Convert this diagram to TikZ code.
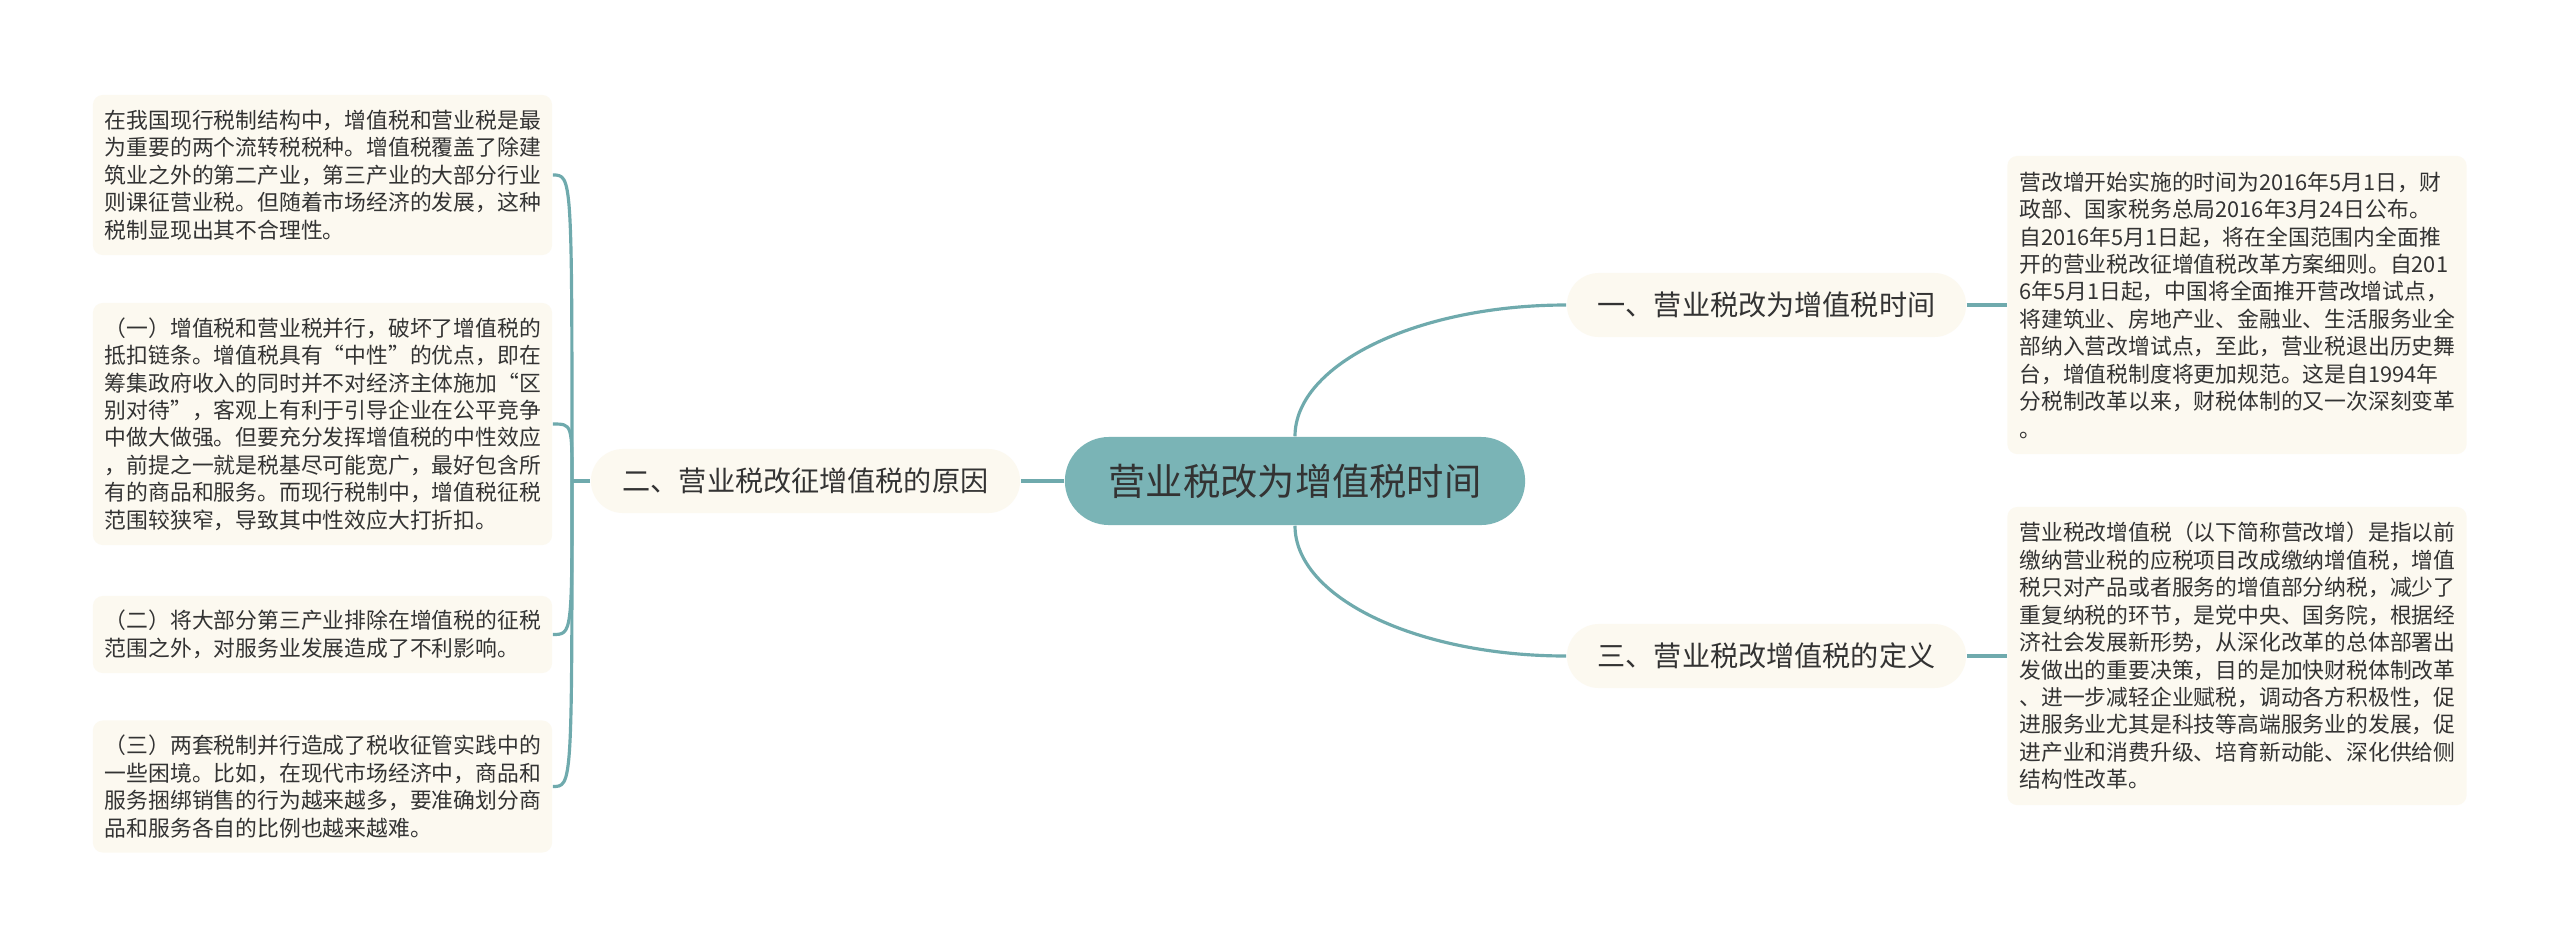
\documentclass[tikz,border=0pt]{standalone}
\usepackage{fontspec}
\newfontfamily\cjk{Noto Sans CJK SC}
\definecolor{rootfill}{RGB}{122,180,182}
\definecolor{linkcol}{RGB}{111,170,173}
\definecolor{leaffill}{RGB}{252,249,240}
\definecolor{txtcol}{RGB}{51,51,51}
\tikzset{
  link/.style={draw=linkcol, line width=0.9pt},
  rootbox/.style={fill=rootfill, rounded corners=4.4mm, minimum width=4.6cm,
    minimum height=0.88cm, inner sep=0pt, text=txtcol,
    font=\cjk\fontsize{10.6pt}{12pt}\selectfont},
  branchbox/.style={fill=leaffill, rounded corners=3.2mm, minimum height=0.64cm,
    inner sep=0pt, text=txtcol, font=\cjk\fontsize{8pt}{10pt}\selectfont},
  leafbox/.style={fill=leaffill, rounded corners=1mm, text width=4.35cm,
    inner xsep=1.2mm, inner ysep=0pt, align=left, text=txtcol,
    font=\cjk\fontsize{6.2pt}{7.8pt}\selectfont},
}
\begin{document}
\begin{tikzpicture}[x=0.01cm, y=-0.01cm]
      \fill[white] (0,0) rectangle (2560,948);   % page
      \useasboundingbox (0,0) rectangle (2560,948);
      %
      \node[rootbox] (root) at (1295,481) {营业税改为增值税时间};   % centre
      %
      \node[branchbox, minimum width=3.99cm] (b1) at (1766.5,305) {一、营业税改为增值税时间};  % right
      \node[branchbox, minimum width=3.99cm] (b3) at (1766.5,656) {三、营业税改增值税的定义};
      \node[branchbox, minimum width=4.29cm] (b2) at (805.5,481) {二、营业税改征增值税的原因}; % left
      %
      \node[leafbox, minimum height=2.98cm] (timeleaf) at (2237,305) {%
        营改增开始实施的时间为2016年5月1日，财\\
        政部、国家税务总局2016年3月24日公布。\\
        自2016年5月1日起，将在全国范围内全面推\\
        开的营业税改征增值税改革方案细则。自201\\
        6年5月1日起，中国将全面推开营改增试点，\\
        将建筑业、房地产业、金融业、生活服务业全\\
        部纳入营改增试点，至此，营业税退出历史舞\\
        台，增值税制度将更加规范。这是自1994年\\
        分税制改革以来，财税体制的又一次深刻变革\\
        。};
      \node[leafbox, minimum height=2.98cm] (defleaf) at (2237,656) {%
        营业税改增值税（以下简称营改增）是指以前\\
        缴纳营业税的应税项目改成缴纳增值税，增值\\
        税只对产品或者服务的增值部分纳税，减少了\\
        重复纳税的环节，是党中央、国务院，根据经\\
        济社会发展新形势，从深化改革的总体部署出\\
        发做出的重要决策，目的是加快财税体制改革\\
        、进一步减轻企业赋税，调动各方积极性，促\\
        进服务业尤其是科技等高端服务业的发展，促\\
        进产业和消费升级、培育新动能、深化供给侧\\
        结构性改革。};
      %
      \node[leafbox, minimum height=1.6cm] (why1) at (322.5,175) {%
        在我国现行税制结构中，增值税和营业税是最\\
        为重要的两个流转税税种。增值税覆盖了除建\\
        筑业之外的第二产业，第三产业的大部分行业\\
        则课征营业税。但随着市场经济的发展，这种\\
        税制显现出其不合理性。};
      \node[leafbox, minimum height=2.42cm] (why2) at (322.5,424) {%
        （一）增值税和营业税并行，破坏了增值税的\\
        抵扣链条。增值税具有“中性”的优点，即在\\
        筹集政府收入的同时并不对经济主体施加“区\\
        别对待”，客观上有利于引导企业在公平竞争\\
        中做大做强。但要充分发挥增值税的中性效应\\
        ，前提之一就是税基尽可能宽广，最好包含所\\
        有的商品和服务。而现行税制中，增值税征税\\
        范围较狭窄，导致其中性效应大打折扣。};
      \node[leafbox, minimum height=0.77cm] (why3) at (322.5,634.5) {%
        （二）将大部分第三产业排除在增值税的征税\\
        范围之外，对服务业发展造成了不利影响。};
      \node[leafbox, minimum height=1.32cm] (why4) at (322.5,786.5) {%
        （三）两套税制并行造成了税收征管实践中的\\
        一些困境。比如，在现代市场经济中，商品和\\
        服务捆绑销售的行为越来越多，要准确划分商\\
        品和服务各自的比例也越来越难。};
      %
      \draw[link] (root.north) .. controls +(0,-72) and +(-149,0) .. (b1.west); % links
      \draw[link] (root.south) .. controls +(0,72) and +(-149,0) .. (b3.west);
      \draw[link] (root.west) -- (b2.east);
      \draw[link] (b1.east) -- (timeleaf.west);
      \draw[link] (b3.east) -- (defleaf.west);
      %
      \coordinate (fork) at (572,481);
      \draw[link] (b2.west) -- (fork);
      \draw[link] (fork) .. controls (fork |- why1.east) .. (why1.east);
      \draw[link] (fork) .. controls (fork |- why2.east) .. (why2.east);
      \draw[link] (fork) .. controls (fork |- why3.east) .. (why3.east);
      \draw[link] (fork) .. controls (fork |- why4.east) .. (why4.east);
      %
\end{tikzpicture}
\end{document}
